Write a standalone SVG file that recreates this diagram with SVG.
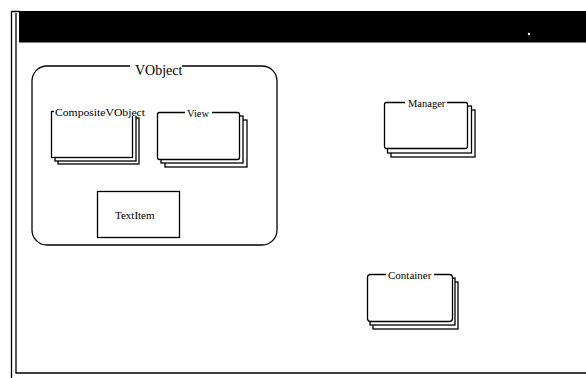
<svg xmlns="http://www.w3.org/2000/svg" width="586" height="378" viewBox="0 0 586 378">
<style>
.ln{fill:none;stroke:#000;stroke-width:1.3}
.bx{fill:#fff;stroke:#000;stroke-width:1.3}
.gap{fill:#fff;stroke:none}
.t{font-family:"Liberation Serif","Times New Roman",serif;fill:#000}
</style>
<rect width="586" height="378" fill="#fff"/>
<g id="frame">
<polyline class="ln" points="11.5,378 11.5,11.5 20,11.5" stroke-width="2"/>
<polyline class="ln" points="16,13 16,373 586,373" stroke-width="2"/>
<rect x="19" y="11" width="567" height="31.5" fill="#000"/>
<circle cx="529" cy="34" r="1.2" fill="#fff"/>
</g>
<g id="connectors"></g>
<g id="vobject">
<rect x="32" y="66" width="245" height="179" rx="15" ry="15" class="ln" stroke-width="2"/>
<rect x="130" y="60" width="52" height="12" class="gap"/>
<text x="135" y="75" class="t" font-size="14">VObject</text>
</g>
<g id="compositevobject">
<rect x="58" y="118" width="81" height="46" class="bx"/>
<rect x="55" y="115" width="81" height="46" class="bx"/>
<rect x="51.5" y="111.5" width="81" height="46" class="bx"/>
<rect x="54" y="106" width="94" height="10" class="gap"/>
<text x="55" y="116" class="t" font-size="10.5" textLength="90" lengthAdjust="spacingAndGlyphs">CompositeVObject</text>
</g>
<g id="view">
<rect x="165" y="120" width="82" height="47" class="bx"/>
<rect x="161" y="116" width="82" height="47" class="bx"/>
<rect x="157.5" y="112.5" width="82" height="47" rx="2" class="bx"/>
<rect x="185" y="107" width="27" height="10" class="gap"/>
<text x="187" y="117" class="t" font-size="10.5">View</text>
</g>
<g id="textitem">
<rect x="97.5" y="191.5" width="82" height="46" class="bx"/>
<text x="115" y="219" class="t" font-size="11">TextItem</text>
</g>
<g id="manager">
<rect x="391" y="110" width="84" height="47" class="bx"/>
<rect x="387.5" y="106" width="84" height="47" class="bx"/>
<rect x="384.5" y="102.5" width="83" height="46" rx="2" class="bx"/>
<rect x="405" y="97" width="42" height="10" class="gap"/>
<text x="408" y="107" class="t" font-size="10.5">Manager</text>
</g>
<g id="container">
<rect x="373" y="282" width="85" height="47" class="bx"/>
<rect x="370" y="278" width="85" height="47" class="bx"/>
<rect x="367.5" y="274.5" width="85" height="47" rx="3" class="bx"/>
<rect x="386" y="269" width="48" height="10" class="gap"/>
<text x="388" y="279" class="t" font-size="11">Container</text>
</g>
</svg>
